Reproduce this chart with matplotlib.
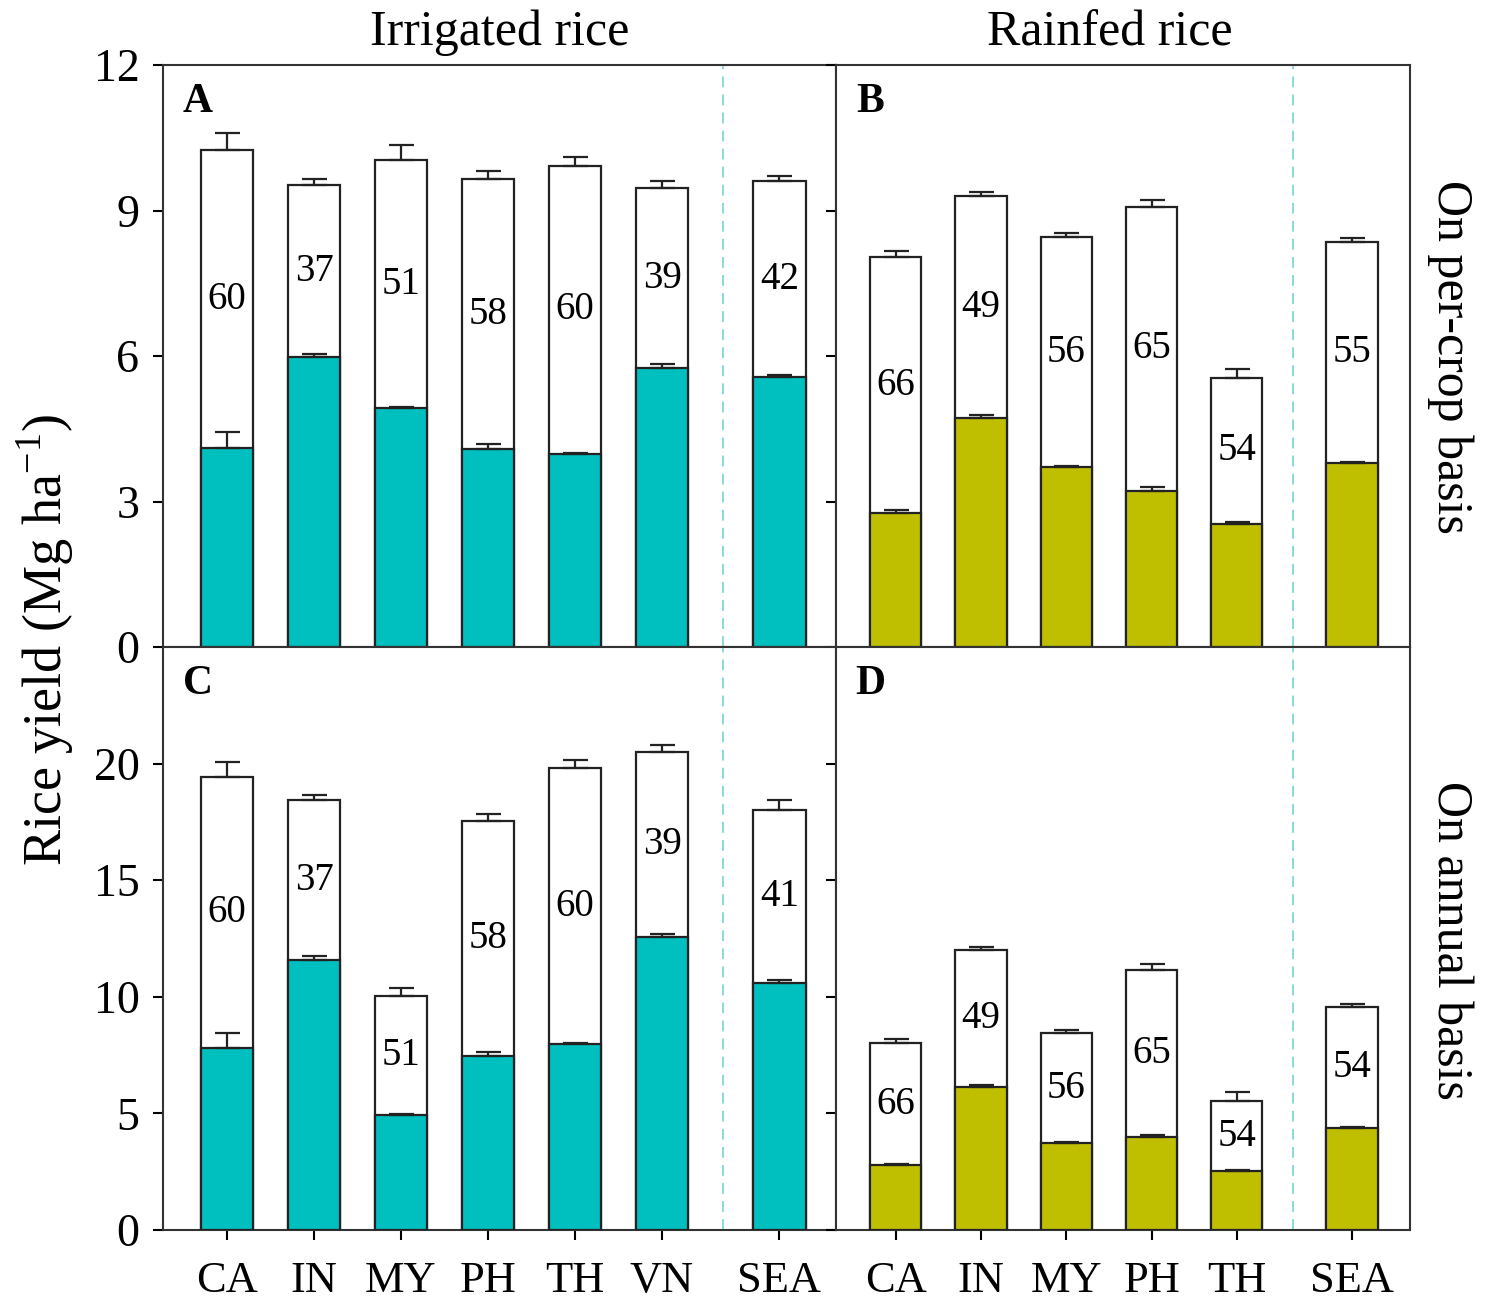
import matplotlib
matplotlib.use("Agg")
import matplotlib.pyplot as plt
import numpy as np

plt.rcParams['font.family'] = ['Liberation Serif', 'DejaVu Serif']
plt.rcParams['mathtext.fontset'] = 'custom'
plt.rcParams['mathtext.rm'] = 'Liberation Serif'

# irrigated rice (panels A, C)
irr_labels = ["CA", "IN", "MY", "PH", "TH", "VN", "SEA"]
irr_crop_total = [10.25, 9.52, 10.04, 9.65, 9.92, 9.46, 9.60]
irr_crop_total_err = [0.35, 0.12, 0.31, 0.16, 0.18, 0.14, 0.12]
irr_crop_base = [4.10, 5.97, 4.92, 4.08, 3.98, 5.75, 5.57]
irr_crop_base_err = [0.33, 0.08, 0.02, 0.10, 0.03, 0.08, 0.04]
irr_crop_pct = [60, 37, 51, 58, 60, 39, 42]

irr_year_total = [19.44, 18.42, 10.02, 17.52, 19.79, 20.51, 18.03]
irr_year_total_err = [0.65, 0.25, 0.34, 0.30, 0.38, 0.30, 0.39]
irr_year_base = [7.79, 11.56, 4.93, 7.45, 7.97, 12.55, 10.58]
irr_year_base_err = [0.65, 0.17, 0.03, 0.17, 0.05, 0.13, 0.13]
irr_year_pct = [60, 37, 51, 58, 60, 39, 41]

# rainfed rice (panels B, D)
rf_labels = ["CA", "IN", "MY", "PH", "TH", "SEA"]
rf_crop_total = [8.04, 9.30, 8.45, 9.07, 5.55, 8.35]
rf_crop_total_err = [0.12, 0.08, 0.08, 0.14, 0.18, 0.08]
rf_crop_base = [2.76, 4.72, 3.71, 3.22, 2.54, 3.79]
rf_crop_base_err = [0.06, 0.06, 0.03, 0.08, 0.03, 0.03]
rf_crop_pct = [66, 49, 56, 65, 54, 55]

rf_year_total = [8.01, 11.99, 8.44, 11.13, 5.52, 9.55]
rf_year_total_err = [0.17, 0.13, 0.13, 0.26, 0.39, 0.13]
rf_year_base = [2.78, 6.12, 3.73, 3.98, 2.53, 4.37]
rf_year_base_err = [0.04, 0.09, 0.03, 0.09, 0.03, 0.03]
rf_year_pct = [66, 49, 56, 65, 54, 54]

teal = "#00BFBF"
olive = "#BFBF00"

fig = plt.figure(figsize=(14.89, 13.07), dpi=100)

L, M, R = 163 / 1489, 836 / 1489, 1410 / 1489
T, C, B = 1 - 65 / 1307, 1 - 647 / 1307, 1 - 1230 / 1307

axA = fig.add_axes([L, C, M - L, T - C])
axB = fig.add_axes([M, C, R - M, T - C])
axC = fig.add_axes([L, B, M - L, C - B])
axD = fig.add_axes([M, B, R - M, C - B])

x_irr = np.array([0, 1, 2, 3, 4, 5, 6.35])
x_rf = np.array([0, 1, 2, 3, 4, 5.35])

lw = 1.6


def panel(ax, x, total, total_err, base, base_err, pct, color, dash_x, letter):
    ax.bar(x, total, width=0.6, color="white", edgecolor="#222222", linewidth=lw, zorder=2)
    ax.errorbar(x, total, yerr=[np.zeros(len(x)), total_err], fmt="none",
                ecolor="#222222", elinewidth=lw, capsize=9, capthick=lw, zorder=3)
    ax.bar(x, base, width=0.6, color=color, edgecolor="#222222", linewidth=lw, zorder=4)
    ax.errorbar(x, base, yerr=[np.zeros(len(x)), base_err], fmt="none",
                ecolor="#222222", elinewidth=lw, capsize=9, capthick=lw, zorder=5)
    for xi, t, b, p in zip(x, total, base, pct):
        ax.text(xi, (t + b) / 2, str(p), ha="center", va="center", fontsize=28, zorder=6)
    ax.axvline(dash_x, color="#7FD8D8", linestyle=(0, (6, 4)), linewidth=1.3, zorder=1)
    ax.text(0.052 if letter in "AC" else 0.059, 0.936, letter, transform=ax.transAxes,
            ha="center", va="center", fontsize=30, fontweight="bold")
    for s in ax.spines.values():
        s.set_linewidth(1.5)
        s.set_color("#333333")
    ax.tick_params(direction="out", length=7, width=1.5, labelsize=33, pad=10)


panel(axA, x_irr, irr_crop_total, irr_crop_total_err, irr_crop_base, irr_crop_base_err,
      irr_crop_pct, teal, 5.70, "A")
panel(axB, x_rf, rf_crop_total, rf_crop_total_err, rf_crop_base, rf_crop_base_err,
      rf_crop_pct, olive, 4.66, "B")
panel(axC, x_irr, irr_year_total, irr_year_total_err, irr_year_base, irr_year_base_err,
      irr_year_pct, teal, 5.70, "C")
panel(axD, x_rf, rf_year_total, rf_year_total_err, rf_year_base, rf_year_base_err,
      rf_year_pct, olive, 4.66, "D")

for ax in (axA, axC):
    ax.set_xlim(-0.736, 7.0)
for ax in (axB, axD):
    ax.set_xlim(-0.70, 6.03)

for ax in (axA, axB):
    ax.set_ylim(0, 12)
    ax.set_yticks([0, 3, 6, 9, 12])
    ax.set_xticks([])
for ax in (axC, axD):
    ax.set_ylim(0, 25)
    ax.set_yticks([0, 5, 10, 15, 20])

axC.set_xticks(x_irr)
axC.set_xticklabels(irr_labels)
axD.set_xticks(x_rf)
axD.set_xticklabels(rf_labels)
for ax in (axC, axD):
    ax.tick_params(axis="x", pad=15, labelsize=32)
for ax in (axB, axD):
    ax.tick_params(axis="y", labelleft=False)

fig.text((L + M) / 2, 1 - 33 / 1307, "Irrigated rice", ha="center", va="center", fontsize=36)
fig.text(1110 / 1489, 1 - 33 / 1307, "Rainfed rice", ha="center", va="center", fontsize=36)
fig.text(1450 / 1489, 1 - 357 / 1307, "On per-crop basis", ha="center", va="center",
         rotation=-90, fontsize=36)
fig.text(1450 / 1489, 1 - 940 / 1307, "On annual basis", ha="center", va="center",
         rotation=-90, fontsize=36)
fig.text(45 / 1489, 1 - 640 / 1307, r"Rice yield (Mg ha$^{\mathregular{-1}}$)", ha="center",
         va="center", rotation=90, fontsize=39)

fig.savefig("out.png", dpi=100)
